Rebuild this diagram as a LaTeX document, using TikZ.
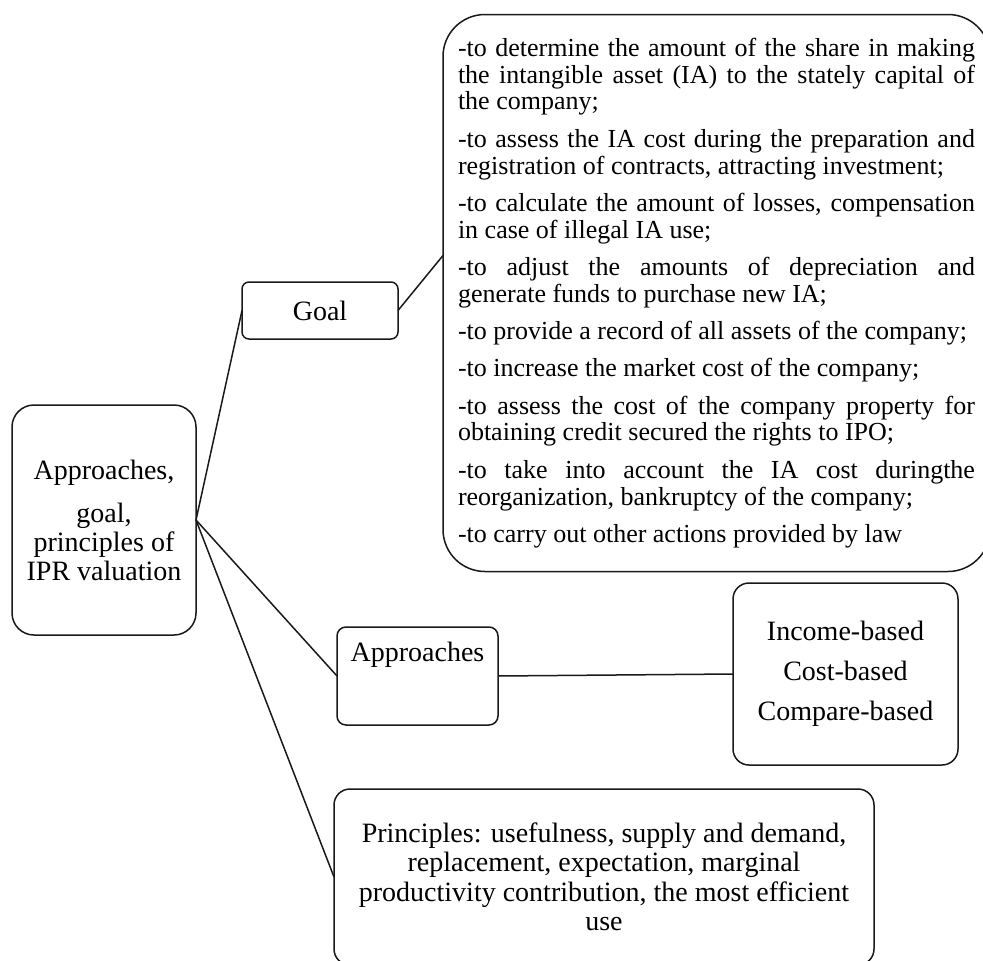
\documentclass[tikz,border=0pt]{standalone}
\usepackage{fontspec}
\setmainfont{Liberation Serif}
\begin{document}
\begin{tikzpicture}[x=1pt,y=-1pt]
\tikzset{
  bx/.style={draw=black!90, line width=1.5pt, inner sep=0pt, outer sep=0pt},
  conn/.style={draw=black!90, line width=1.5pt},
  bigtext/.style={font=\fontsize{28}{29}\selectfont},
}
\useasboundingbox (0,0) rectangle (983,961);

% main box
\node[bx, rounded corners=22pt, minimum width=184pt, minimum height=230pt,
      align=center, bigtext] (main) at (104,520)
  {Approaches,\\[14pt]goal,\\principles of\\IPR valuation};

% goal
\node[bx, rounded corners=7pt, minimum width=156pt, minimum height=57pt, bigtext]
  (goal) at (320,310.5) {Goal};

% big list box
\node[bx, rounded corners=42pt, minimum width=547pt, minimum height=557pt,
      text width=517pt, align=justify, font=\fontsize{26}{26.8}\selectfont]
  (big) at (716.5,293)
  {\setlength{\parskip}{10.5pt}\tolerance=10000 \hyphenpenalty=10000
  -to determine the amount of the share in making\linebreak the intangible asset (IA) to the stately capital of\linebreak the company;\par
  -to assess the IA cost during the preparation and\linebreak registration of contracts, attracting investment;\par
  -to calculate the amount of losses, compensation\linebreak in case of illegal IA use;\par
  -to adjust the amounts of depreciation and\linebreak generate funds to purchase new IA;\par
  -to provide a record of all assets of the company;\par
  -to increase the market cost of the company;\par
  -to assess the cost of the company property for\linebreak obtaining credit secured the rights to IPO;\par
  -to take into account the IA cost duringthe\linebreak reorganization, bankruptcy of the company;\par
  -to carry out other actions provided by law};

% approaches
\node[bx, rounded corners=9pt, minimum width=161pt, minimum height=98pt]
  (appr) at (417.5,676) {};
\node[bigtext, inner sep=0pt] (apprtext) at (417.5,655) {Approaches};

% results
\node[bx, rounded corners=16pt, minimum width=225pt, minimum height=182pt,
      align=center, font=\fontsize{28}{40}\selectfont]
  (res) at (845.5,674) {Income-based\\Cost-based\\Compare-based};

% principles
\node[bx, rounded corners=16pt, minimum width=540pt, minimum height=176pt,
      align=center, font=\fontsize{28}{29.5}\selectfont]
  (prin) at (604,877)
  {Principles: usefulness, supply and demand,\\replacement, expectation, marginal\\productivity contribution, the most efficient\\use};

% connectors
\draw[conn] (main.east) -- (goal.west);
\draw[conn] (goal.east) -- ([yshift=37.5pt]big.west);
\draw[conn] (main.east) -- (appr.west);
\draw[conn] (appr.east) -- (res.west);
\draw[conn] (main.east) -- (prin.west);
\end{tikzpicture}
\end{document}
